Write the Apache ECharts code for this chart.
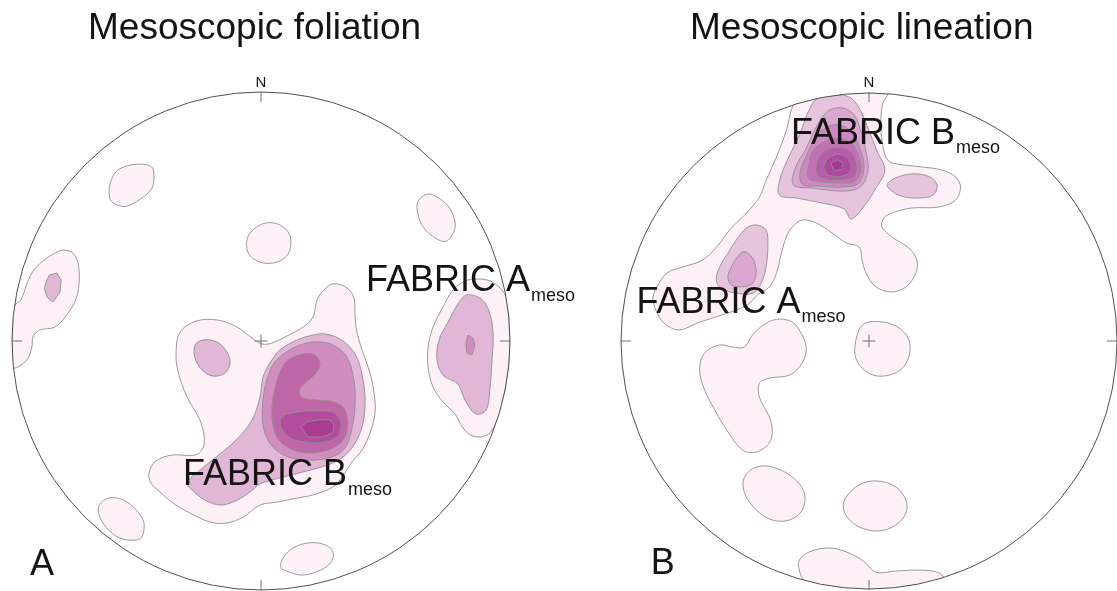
<!DOCTYPE html>
<html>
<head>
<meta charset="utf-8">
<script src="https://cdn.jsdelivr.net/npm/echarts@6/dist/echarts.min.js"></script>
<style>
html,body{margin:0;padding:0;background:#fff;}
#chart{width:1117px;height:591px;}
</style>
</head>
<body>
<div id="chart"></div>
<script>
// Stereonet coordinates: percent of the net radius (x east, y north), centre = [0,0].

// ---------- Panel A : Mesoscopic foliation ----------
const A_L1_NW  = [[-57,69],[-50,71],[-44,70],[-43,66],[-44,61],[-50,56],[-55,54],[-60,56],[-61,60],[-60,65]];
const A_L1_TOP = [[-4.1,43.7],[1,47.2],[6.7,47],[11,43.7],[12,38.9],[10.3,34.1],[5.3,31.4],[-0.4,31.7],[-4.8,34.8],[-5.8,39.6]];
const A_L1_NE  = [[63,56],[67,59],[72,57],[76,53],[78,47],[77,43],[74,40],[69,42],[65,46],[63,51]];
const A_L1_W   = [[-75.5,35.3],[-73.5,31.3],[-73,24.5],[-74,17.7],[-77.5,11.2],[-82.7,5.6],[-88.8,4.4],[-91.6,1.6],[-92,-2.4],[-94,-7.6],[-99.4,-10.8],[-99.9,-3.6],[-99.9,4.4],[-99,14.1],[-96.4,16.5],[-93.6,24.1],[-91.2,28.5],[-87.6,32.1],[-83.5,34.9],[-79.5,36.5]];
const A_L1_SW  = [[-65,-66],[-61,-63],[-55,-64],[-50,-68],[-47,-73],[-48,-79],[-51,-80],[-57,-79],[-62,-75],[-65,-70]];
const A_L1_S   = [[9,-87],[13,-83],[20,-81],[26,-82],[29,-85],[28,-89],[24,-92],[17,-94],[12,-93],[8,-91]];
const A_L1_C   = [[29,23],[34.5,21.3],[37.3,17.3],[37.8,9.6],[38.6,3.2],[41,-4.8],[43.8,-12.9],[45.4,-20.9],[45.8,-28.9],[43.8,-36.9],[40.6,-43.8],[36.5,-48.6],[32.9,-54.2],[28.9,-58.6],[20.9,-61.8],[14.5,-63.1],[6.4,-64.7],[-0.4,-65.9],[-7.2,-70.7],[-13.7,-73.1],[-20.5,-72.7],[-28.5,-69.1],[-35.3,-65.1],[-40.6,-60.6],[-44.2,-57],[-45,-53],[-42.2,-48.2],[-35.7,-45.8],[-26.5,-45.8],[-23.3,-43],[-22.9,-37.8],[-24.9,-30.9],[-29.7,-22.5],[-33.3,-12.4],[-34.1,-4.4],[-32.5,3.6],[-26.1,8],[-17.3,8.4],[-9.6,5.6],[-3.6,1.2],[0.4,-1.2],[4.4,-0.8],[10.4,2],[16.9,5.6],[20.9,9.6],[22.5,16.5],[25.3,20.5]];
const A_L1_E   = [[87.1,24.9],[81.9,24.1],[77.1,20.5],[73.1,13.7],[69.1,5.6],[67.1,-2.4],[67.1,-10.4],[69.1,-18.5],[73.1,-24.5],[77.9,-29.3],[81.1,-34.9],[85.1,-38.2],[90.8,-37.8],[94.4,-32.9],[97.1,-23.7],[99.3,-11.6],[100,0],[99.4,10.4],[98.4,17.7],[96,21.3],[92,24.1]];
const A_L2_W   = [[-85,26.5],[-82,27.3],[-80.3,24.5],[-80.7,19.7],[-83.5,15.7],[-86,17.7],[-87,21.3],[-86,24.5]];
const A_L2_C   = [[26.1,2.8],[32.9,0],[38.2,-6],[41,-15.7],[41.8,-24.9],[40.6,-34.5],[36.5,-43],[30.5,-48.2],[22.9,-51],[13.7,-53.4],[4.4,-55.8],[-0.4,-57.4],[-4.4,-60.6],[-9.6,-63.9],[-16.1,-65.9],[-22.5,-63.9],[-27.3,-60.2],[-29.7,-57],[-24.5,-51.8],[-18.5,-47],[-10,-39.8],[-3.6,-31.7],[-0.4,-22.5],[0.8,-14.5],[3.6,-8.8],[7.6,-3.6],[14.5,0.4],[20.9,2.4]];
const A_L2_CL  = [[-26.5,-1.6],[-23.3,0.4],[-17.7,-0.4],[-13.7,-4.4],[-12.4,-8.8],[-14.5,-12.9],[-19.3,-14.1],[-23.7,-11.6],[-26.5,-6.8]];
const A_L2_E   = [[82.7,18.5],[88.4,16.9],[91.6,12],[93.2,3.2],[92.8,-7.6],[92,-18.5],[90.4,-27.7],[86.3,-29.3],[81.9,-23.7],[79.1,-17.3],[73.1,-13.7],[70.7,-7.6],[71.5,0.4],[75.1,7.6],[79.1,14.9]];
const A_L3_E   = [[83.1,2.4],[85.1,1.2],[85.9,-1.6],[84.7,-5.6],[82.7,-4.8],[82.3,-0.8]];
const A_L3_C   = [[22.4,-0.3],[29,-1.6],[34.4,-6.3],[37.1,-14.3],[37.8,-25],[36.4,-35.7],[33.1,-43.8],[26.4,-47.1],[17,-47.8],[9,-45.8],[3.6,-41.1],[0.9,-34.4],[0.7,-25],[2.3,-15.7],[5.6,-8.3],[11.6,-3.6],[17,-1.2]];
const A_L4_C   = [[11.6,-7.2],[16.9,-5.2],[21.7,-5.6],[23.7,-9.2],[21.7,-13.3],[17.7,-16.9],[15.3,-20.1],[16.9,-22.9],[22.9,-23.7],[29.3,-24.5],[33.3,-26.9],[34.9,-32.9],[33.3,-39.4],[28.1,-43.4],[19.7,-45],[12,-43.4],[6.4,-38.6],[4.4,-30.9],[4.8,-22.9],[6.8,-14.9],[8.8,-10]];
const A_L5_C   = [[8.4,-30.5],[14.9,-28.5],[24.1,-28.1],[29.7,-28.9],[32.1,-32.9],[30.9,-38.2],[25.7,-40.6],[17.7,-40.6],[11.2,-38.6],[8,-34.5]];
const A_L6_C   = [[16.1,-34.5],[18.5,-32.5],[22.9,-31.7],[27.7,-31.7],[29.3,-33.7],[28.9,-36.9],[24.5,-38.6],[18.9,-38.6]];

// ---------- Panel B : Mesoscopic lineation ----------
const B_L1_MAIN = [[-28.9,95.7],[-20.1,98],[-10,99.5],[0,100],[7.6,99.7],[5.6,95.6],[4.8,88.8],[5.2,80.7],[6.8,73.9],[9.2,71.5],[21.3,69.9],[29.3,68.7],[34.9,65.9],[36.9,61.8],[34.9,56.6],[28.1,53.8],[17.3,53.4],[9.2,51.4],[6,49.4],[5.2,45.8],[9.2,41.8],[16.1,37.3],[19.3,32.5],[18.9,27.3],[14.9,21.7],[9.2,19.7],[2.8,21.7],[-1.2,27.3],[-2.8,32.5],[-4,37.8],[-9.2,39.4],[-14.9,43.4],[-21.3,47.4],[-26.9,48.6],[-30.9,45.8],[-33.3,41.8],[-35.3,35.3],[-37.3,27.3],[-40.2,21.7],[-45,18.5],[-49,14.5],[-58.2,10.8],[-68.3,7.6],[-76.3,4.4],[-81.1,6],[-84.3,9.2],[-86.7,14.5],[-87.1,17.7],[-85.5,21.7],[-81.5,27.3],[-75.1,29.7],[-67.1,32.5],[-61.4,37.8],[-56.2,44.6],[-49.4,51.4],[-44.2,57.8],[-41.4,64.7],[-37.3,73.9],[-33.3,84.7],[-30.9,94]];
const B_L1_CEN  = [[-2.7,6.4],[4,7.8],[11.4,5.7],[16.1,0.4],[16.1,-6.3],[12.7,-11.6],[6,-14.1],[0,-13],[-4.7,-8.3],[-5.7,-2.3]];
const B_L1_LL   = [[-41.4,7.2],[-36.1,8.8],[-30.9,7.6],[-28.1,4.4],[-25.3,-2.4],[-26.9,-8.8],[-32.1,-13.7],[-40.2,-14.9],[-44.2,-16.9],[-44.2,-22.5],[-40.2,-30.5],[-39,-35.7],[-40.2,-41],[-45.4,-44.6],[-51,-43.8],[-57.4,-35.7],[-62.2,-27.7],[-66.3,-19.7],[-68.3,-11.6],[-66.3,-4.8],[-60.2,-1.6],[-55,-2.4],[-50.2,-2.4],[-47,2.4]];
const B_L1_E1   = [[-50.2,-54.6],[-45.4,-50.6],[-39,-50.6],[-30.9,-54.6],[-26.1,-61],[-26.9,-67.9],[-32.1,-71.9],[-39,-71.9],[-45.4,-67.9],[-50.2,-61]];
const B_L1_E2   = [[-9.2,-62.7],[-4,-57.8],[3.2,-56.2],[10.8,-58.6],[14.9,-63.9],[14.9,-69.1],[10.8,-73.9],[4,-76.3],[-4,-74.7],[-8.8,-70.7],[-10.4,-66.7]];
const B_L1_BOT  = [[-25.7,-96.6],[-28.1,-92],[-28.1,-88],[-24.1,-84.7],[-16.1,-83.1],[-9.2,-84.7],[-2.8,-88],[2.8,-92.8],[10.8,-92.4],[20.1,-92],[27.3,-92.8],[30.1,-95.3],[20.1,-98],[0,-100],[-16.1,-98.7]];
const B_L2_TOP  = [[-20.9,97.4],[-13.7,98.8],[-8,98],[-4,93.6],[-0.4,85.5],[3.2,76.3],[6.4,68.7],[2.8,61.4],[-1.6,54.6],[-7.2,49],[-10,53],[-18.9,55.4],[-29.3,57.4],[-36.1,58.6],[-36.1,64.3],[-32.9,72.7],[-28.1,82.7],[-24.5,92]];
const B_L2_RE   = [[7.3,62.8],[10.7,65.5],[17.4,67.1],[24.1,66.1],[27.4,62.8],[26.1,58.8],[20.1,57.4],[13.4,58.1],[9.4,60.1]];
const B_L2_FA   = [[-45.5,46.6],[-41.5,44.6],[-40.8,37.9],[-41.5,29.8],[-43.5,23.2],[-46.9,19.2],[-53.5,19.2],[-59.6,21.2],[-61.6,24.5],[-60.2,29.8],[-56.9,35.2],[-53.5,40.6],[-49.5,45.3]];
const B_L3_FA   = [[-50.2,35.9],[-46.9,33.2],[-45.5,27.8],[-46.9,23.2],[-50.9,21.8],[-55.5,22.5],[-56.9,25.8],[-55.5,29.8],[-52.9,33.9]];
const B_L3_TOP  = [[-16.5,92.4],[-10.8,93.6],[-6,90.8],[-3.2,83.9],[-1.2,75.9],[-0.4,68.3],[-3.6,61.8],[-10.8,60.2],[-22.5,61.4],[-30.5,62.7],[-29.7,69.5],[-25.7,76.7],[-21.7,85.1]];
const B_L4_TOP  = [[-20.1,83.5],[-13.4,86.9],[-7.3,84.2],[-3.7,77.5],[-2,70.2],[-4,63.5],[-10.7,61.8],[-20.1,62.2],[-26.8,62.8],[-27.8,67.5],[-24.8,75.5]];
const B_L5_TOP  = [[-20.1,78.8],[-13.4,81.5],[-7.3,79.5],[-4,74.2],[-3.3,68.2],[-6,64],[-12.7,63.5],[-20.1,64],[-24.4,65.5],[-24.1,71.5],[-22.8,76.2]];
const B_L6_TOP  = [[-18.8,75.5],[-12.7,77.8],[-7.3,76.2],[-5.1,71.5],[-5.6,66.5],[-9.4,64.9],[-15.4,64.7],[-20.4,66.2],[-21.4,69.5]];
const B_L7_TOP  = [[-16.7,73.5],[-12.7,75.2],[-8.7,73.9],[-7.1,70.6],[-8,67.1],[-12,65.9],[-16.7,66.5],[-18.4,69.8]];
const B_L8_TOP  = [[-15.4,71.5],[-12.7,72.8],[-10.4,71.5],[-11,68.8],[-14.1,68.4]];

// ---------- texts ----------
const TITLES = ['Mesoscopic foliation', 'Mesoscopic lineation'];
const PANEL_LETTERS = ['A', 'B'];
const PANEL_LETTER_POS = [[-92.8,-95.2], [-88,-94.8]];
const NORTH_LABEL = 'N';
const NORTH_POS = [0, 101.6];
const A_LABEL_TEXT = ['FABRIC A', 'FABRIC B'];
const A_LABEL_POS  = [[42.2,18.9], [-31.3,-59]];
const B_LABEL_TEXT = ['FABRIC B', 'FABRIC A'];
const B_LABEL_POS  = [[-31.5,78.1], [-93.8,10.2]];
const LABEL_SUB = 'meso';

// ---------- styles ----------
const A_COLORS = ['#fdf1f7','#e2b6d6','#d18dc0','#bf66a9','#b24d9d','#a93c92'];
const B_COLORS = ['#fdf1f7','#e7c4de','#dba6d0','#cd88c1','#c171b5','#b75ca9','#ae489e','#a63993'];
const FONT = '"Liberation Sans", Arial, Helvetica, sans-serif';
const STROKE = '#8e8e8e';

const A_LAYERS = [
  [A_L1_NW,0],[A_L1_TOP,0],[A_L1_NE,0],[A_L1_W,0],[A_L1_SW,0],[A_L1_S,0],[A_L1_C,0],[A_L1_E,0],
  [A_L2_W,1],[A_L2_C,1],[A_L2_CL,1],[A_L2_E,1],
  [A_L3_E,2],[A_L3_C,2],[A_L4_C,3],[A_L5_C,4],[A_L6_C,5]
];
const B_LAYERS = [
  [B_L1_MAIN,0],[B_L1_CEN,0],[B_L1_LL,0],[B_L1_E1,0],[B_L1_E2,0],[B_L1_BOT,0],
  [B_L2_TOP,1],[B_L2_RE,1],[B_L2_FA,1],[B_L3_FA,2],[B_L3_TOP,2],
  [B_L4_TOP,3],[B_L5_TOP,4],[B_L6_TOP,5],[B_L7_TOP,6],[B_L8_TOP,7]
];

const mctx = document.createElement('canvas').getContext('2d');
function textWidth(t, size) { mctx.font = size + 'px ' + FONT; return mctx.measureText(t).width; }

function polySeries(g, pts, fill) {
  return {
    type: 'custom', xAxisIndex: g, yAxisIndex: g, silent: true, animation: false,
    data: pts,
    renderItem: function (params, api) {
      if (params.dataIndex !== 0) return null;
      const c = api.coord([0, 0]);
      const r = api.size([100, 100])[0];
      return {
        type: 'polygon',
        shape: { points: pts.map(function (p) { return api.coord(p); }), smooth: pts.length > 8 ? 0.35 : 0 },
        style: { fill: fill, stroke: STROKE, lineWidth: 0.9 },
        clipPath: { type: 'circle', shape: { cx: c[0], cy: c[1], r: r } }
      };
    }
  };
}

function frameSeries(g) {
  return {
    type: 'custom', xAxisIndex: g, yAxisIndex: g, silent: true, animation: false,
    data: [[0, 0]],
    renderItem: function (params, api) {
      const c = api.coord([0, 0]);
      const r = api.size([100, 100])[0];
      function seg(a, b, col) {
        const p = api.coord(a), q = api.coord(b);
        return { type: 'line', shape: { x1: p[0], y1: p[1], x2: q[0], y2: q[1] }, style: { stroke: col, lineWidth: 1 } };
      }
      const tk = '#6e6e6e';
      return {
        type: 'group',
        children: [
          { type: 'circle', shape: { cx: c[0], cy: c[1], r: r }, style: { fill: 'none', stroke: '#505050', lineWidth: 1 } },
          seg([0, 100], [0, 96], tk), seg([0, -100], [0, -96], tk),
          seg([100, 0], [96, 0], tk), seg([-100, 0], [-96, 0], tk),
          seg([-2.6, 0], [2.6, 0], tk), seg([0, -2.6], [0, 2.6], tk)
        ]
      };
    }
  };
}

function textEl(x, baseY, text, size, align) {
  return {
    type: 'text',
    style: { x: x, y: baseY - 0.3465 * size, text: text, fill: '#141414',
             font: size + 'px ' + FONT, align: align || 'left', verticalAlign: 'middle' }
  };
}

function fabricLabelSeries(g, texts, positions) {
  return {
    type: 'custom', xAxisIndex: g, yAxisIndex: g, silent: true, animation: false, z: 5,
    data: positions,
    renderItem: function (params, api) {
      const p = api.coord([api.value(0), api.value(1)]);
      const t = texts[params.dataIndex];
      const w = textWidth(t, 36);
      return { type: 'group', children: [
        textEl(p[0], p[1], t, 36),
        textEl(p[0] + w + 1, p[1] + 8, LABEL_SUB, 18)
      ]};
    }
  };
}

function singleTextSeries(g, text, pos, size, align) {
  return {
    type: 'custom', xAxisIndex: g, yAxisIndex: g, silent: true, animation: false, z: 5,
    data: [pos],
    renderItem: function (params, api) {
      const p = api.coord([api.value(0), api.value(1)]);
      return textEl(p[0], p[1], text, size, align);
    }
  };
}

const series = [];
A_LAYERS.forEach(function (l) { series.push(polySeries(0, l[0], A_COLORS[l[1]])); });
B_LAYERS.forEach(function (l) { series.push(polySeries(1, l[0], B_COLORS[l[1]])); });
series.push(frameSeries(0), frameSeries(1));
series.push(fabricLabelSeries(0, A_LABEL_TEXT, A_LABEL_POS));
series.push(fabricLabelSeries(1, B_LABEL_TEXT, B_LABEL_POS));
series.push(singleTextSeries(0, NORTH_LABEL, NORTH_POS, 15, 'center'));
series.push(singleTextSeries(1, NORTH_LABEL, NORTH_POS, 15, 'center'));
series.push(singleTextSeries(0, PANEL_LETTERS[0], PANEL_LETTER_POS[0], 36, 'left'));
series.push(singleTextSeries(1, PANEL_LETTERS[1], PANEL_LETTER_POS[1], 36, 'left'));

const chart = echarts.init(document.getElementById('chart'), null, { renderer: 'canvas' });
chart.setOption({
  backgroundColor: '#ffffff',
  animation: false,
  title: [
    { text: TITLES[0], left: 88, top: 10, padding: 0,
      textStyle: { fontFamily: FONT, fontSize: 37, fontWeight: 'normal', color: '#141414' } },
    { text: TITLES[1], left: 690, top: 10, padding: 0,
      textStyle: { fontFamily: FONT, fontSize: 37, fontWeight: 'normal', color: '#141414' } }
  ],
  grid: [
    { left: 12, top: 92, width: 498, height: 498 },
    { left: 621, top: 92, width: 498, height: 498 }
  ],
  xAxis: [
    { gridIndex: 0, type: 'value', min: -100, max: 100, show: false },
    { gridIndex: 1, type: 'value', min: -100, max: 100, show: false }
  ],
  yAxis: [
    { gridIndex: 0, type: 'value', min: -100, max: 100, show: false },
    { gridIndex: 1, type: 'value', min: -100, max: 100, show: false }
  ],
  series: series
});
</script>
</body>
</html>
